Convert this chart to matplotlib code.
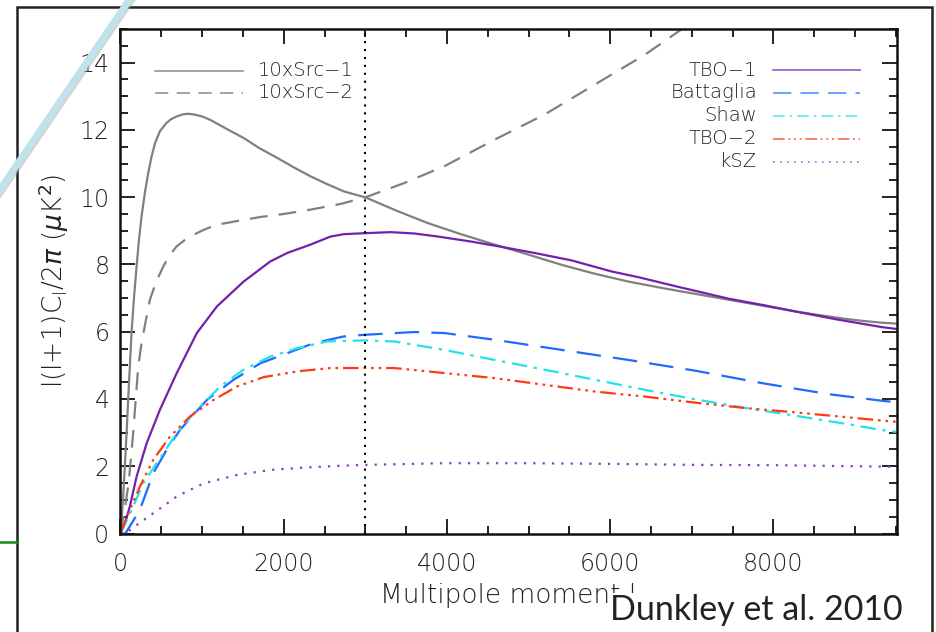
import matplotlib
matplotlib.use("Agg")
import matplotlib.pyplot as plt
from matplotlib.lines import Line2D
from matplotlib.patches import Rectangle

# ---------------- data ----------------
src1_l = [0, 30, 53, 75, 94, 115, 135, 165, 197, 225, 258, 300, 340, 380, 422, 483, 560, 620, 689, 760,
          832, 920, 1000, 1098, 1300, 1508, 1700, 1919, 2120, 2328, 2530, 2738, 3005, 3380, 3764, 4170,
          4583, 5000, 5403, 5800, 6224, 6634, 7100, 7454, 7850, 8273, 8600, 8888, 9100, 9319, 9510]
src1_y = [0, 1.0, 2.0, 3.0, 3.97, 5.0, 5.96, 7.0, 7.94, 8.7, 9.43, 10.15, 10.72, 11.2, 11.6, 11.96, 12.2,
          12.32, 12.4, 12.46, 12.48, 12.45, 12.4, 12.3, 12.03, 11.76, 11.46, 11.17, 10.89, 10.62, 10.39,
          10.17, 9.99, 9.6, 9.23, 8.9, 8.59, 8.29, 7.99, 7.73, 7.49, 7.30, 7.10, 6.95, 6.78, 6.60, 6.48,
          6.38, 6.32, 6.27, 6.24]

src2_l = [0, 50, 100, 155, 217, 260, 300, 360, 440, 524, 600, 689, 790, 893, 1030, 1181, 1450, 1713,
          2000, 2328, 2700, 3005, 3476, 3968, 4583, 5198, 5813, 6428, 6880, 7100]
src2_y = [0, 0.7, 1.5, 2.98, 4.96, 5.7, 6.2, 6.95, 7.5, 7.94, 8.27, 8.54, 8.73, 8.88, 9.04, 9.18, 9.3,
          9.41, 9.5, 9.63, 9.8, 10.0, 10.42, 10.92, 11.71, 12.46, 13.35, 14.24, 15.0, 15.4]

tbo1_l = [0, 60, 114, 197, 320, 483, 689, 935, 1181, 1508, 1836, 2042, 2328, 2574, 2738, 3005, 3312,
          3600, 3887, 4296, 4583, 5075, 5527, 6018, 6347, 6839, 7454, 7900, 8273, 8765, 9319, 9510]
tbo1_y = [0, 0.35, 0.8, 1.69, 2.68, 3.68, 4.77, 5.96, 6.75, 7.49, 8.09, 8.34, 8.59, 8.83, 8.90, 8.93,
          8.96, 8.92, 8.83, 8.68, 8.56, 8.34, 8.12, 7.79, 7.62, 7.33, 6.98, 6.78, 6.60, 6.37, 6.14, 6.08]

batt_l = [0, 60, 237, 401, 566, 729, 1058, 1385, 1713, 2042, 2369, 2738, 3005, 3599, 3968, 4583,
          5403, 6224, 7043, 7863, 8683, 9319, 9510]
batt_y = [0, 0, 0.7, 1.79, 2.49, 3.08, 3.97, 4.57, 5.06, 5.36, 5.66, 5.86, 5.91, 5.99, 5.96, 5.76,
          5.46, 5.16, 4.84, 4.47, 4.14, 3.95, 3.90]

shaw_l = [0, 155, 278, 483, 689, 935, 1221, 1508, 1836, 2165, 2533, 3005, 3353, 3968, 4583, 5198,
          5813, 6428, 7043, 7658, 8273, 8888, 9319, 9510]
shaw_y = [0, 0.8, 1.49, 2.24, 2.98, 3.68, 4.37, 4.87, 5.26, 5.51, 5.71, 5.74, 5.71, 5.46, 5.16, 4.87,
          4.57, 4.27, 3.99, 3.73, 3.50, 3.26, 3.08, 3.02]

tbo2_l = [0, 114, 237, 401, 606, 852, 1139, 1427, 1754, 2165, 2574, 3005, 3353, 3968, 4583, 5198,
          5813, 6428, 7043, 7658, 8273, 8888, 9319, 9510]
tbo2_y = [0, 0.7, 1.39, 2.19, 2.88, 3.48, 3.97, 4.37, 4.65, 4.82, 4.92, 4.92, 4.92, 4.77, 4.62, 4.42,
          4.22, 4.07, 3.89, 3.73, 3.60, 3.46, 3.36, 3.32]

ksz_l = [0, 60, 197, 401, 689, 1016, 1427, 1836, 2246, 2656, 3005, 3968, 4994, 6018, 7043, 8068, 9319, 9510]
ksz_y = [0, 0, 0.25, 0.6, 1.1, 1.49, 1.74, 1.89, 1.96, 2.01, 2.04, 2.09, 2.09, 2.07, 2.04, 2.03, 1.99, 1.98]

vline_l = 3000
x_ticks = [0, 2000, 4000, 6000, 8000]
y_ticks = [0, 2, 4, 6, 8, 10, 12, 14]

# ---------------- styles ----------------
grey = "#808080"
c_tbo1 = "#7122ac"
c_batt = "#1f6bff"
c_shaw = "#22e3ea"
c_tbo2 = "#ff3a12"
c_ksz = "#8a3cc4"

ds_src2 = (0, (8, 5))
ds_batt = (0, (11, 5.5))
ds_shaw = (0, (7, 3, 1.5, 3))
ds_tbo2 = (0, (7, 2.2, 1.2, 2.2, 1.2, 2.2, 1.2, 2.2))
ds_ksz = (0, (1.0, 3.2))

W, H = 937, 632
fig = plt.figure(figsize=(W / 100, H / 100), dpi=100)
ax_l, ax_r, ax_t, ax_b = 120.5, 896.7, 29.0, 533.5
ax = fig.add_axes([ax_l / W, 1 - ax_b / H, (ax_r - ax_l) / W, (ax_b - ax_t) / H])

lw = 1.6
ax.plot(src1_l, src1_y, color=grey, lw=lw, solid_joinstyle="round")
ax.plot(src2_l, src2_y, color=grey, lw=lw, linestyle=ds_src2)
ax.plot(tbo1_l, tbo1_y, color=c_tbo1, lw=lw, solid_joinstyle="round")
ax.plot(batt_l, batt_y, color=c_batt, lw=lw, linestyle=ds_batt)
ax.plot(shaw_l, shaw_y, color=c_shaw, lw=lw, linestyle=ds_shaw)
ax.plot(tbo2_l, tbo2_y, color=c_tbo2, lw=lw, linestyle=ds_tbo2)
ax.plot(ksz_l, ksz_y, color=c_ksz, lw=lw, linestyle=ds_ksz)
ax.axvline(vline_l, color="black", lw=1.5, linestyle=(0, (1, 2.8)))

ax.set_xlim(0, 9510)
ax.set_ylim(0, 15)
ax.set_xticks(x_ticks)
ax.set_yticks(y_ticks)
ax.set_xticks(range(0, 9510, 500), minor=True)
ax.set_yticks([i * 0.5 for i in range(31)], minor=True)

ax.tick_params(which="both", direction="in", top=True, right=True, width=1.3, colors="#111111")
ax.tick_params(which="major", length=11)
ax.tick_params(which="minor", length=6)
ax.tick_params(axis="x", which="major", pad=13, labelsize=17)
ax.tick_params(axis="y", which="major", pad=8, labelsize=17)
for lab in ax.get_xticklabels() + ax.get_yticklabels():
    lab.set_fontweight("light")
    lab.set_color("#222222")
for s in ax.spines.values():
    s.set_linewidth(1.8)
    s.set_color("#111111")

ax.set_ylabel(r"l(l+1)C$_{\mathregular{l}}$/2$\pi$ ($\mu$K$^2$)", fontsize=19,
              fontweight="light", color="#222222", labelpad=6)
ax.set_xlabel("Multipole moment l", fontsize=19, fontweight="light", color="#222222", labelpad=5)


def fx(px):
    return (px - ax_l) / (ax_r - ax_l)


def fy(py):
    return (ax_b - py) / (ax_b - ax_t)


# left legend
left_entries = [("10xSrc\u22121", "-"), ("10xSrc\u22122", ds_src2)]
for i, (lab, ls) in enumerate(left_entries):
    yy = fy(71 + 21.5 * i)
    ax.add_line(Line2D([fx(155), fx(243)], [yy, yy], transform=ax.transAxes,
                       color=grey, lw=1.2, linestyle=ls, alpha=0.85))
    ax.text(fx(258), yy, lab, transform=ax.transAxes, ha="left", va="center",
            fontsize=14, fontweight="light", color="#222222")

# right legend
right_entries = [("TBO\u22121", c_tbo1, "-"), ("Battaglia", c_batt, ds_batt),
                 ("Shaw", c_shaw, ds_shaw), ("TBO\u22122", c_tbo2, ds_tbo2),
                 ("kSZ", c_ksz, ds_ksz)]
for i, (lab, col, ls) in enumerate(right_entries):
    yy = fy(70 + 22.9 * i)
    ax.add_line(Line2D([fx(773), fx(860)], [yy, yy], transform=ax.transAxes,
                       color=col, lw=1.2, linestyle=ls, alpha=0.75))
    ax.text(fx(757), yy, lab, transform=ax.transAxes, ha="right", va="center",
            fontsize=14, fontweight="light", color="#222222")

# outer frame
fig.patches.append(Rectangle((16.7 / W, -0.05), (931.7 - 16.7) / W, 1.05 - 6.7 / H,
                             transform=fig.transFigure, fill=False, lw=1.8,
                             edgecolor="#222222", zorder=1))
# green line at left
fig.lines.append(Line2D([0, 16.7 / W], [1 - 541.5 / H, 1 - 541.5 / H], transform=fig.transFigure,
                        color="#138a13", lw=1.8))
# light blue diagonal stripe
fig.lines.append(Line2D([-5 / W, 132 / W], [1 - 199 / H, 1 + 2 / H], transform=fig.transFigure,
                        color="#a9a9a9", lw=6.0, alpha=0.5, zorder=5))
fig.lines.append(Line2D([-5 / W, 132 / W], [1 - 197 / H, 1 + 4 / H], transform=fig.transFigure,
                        color="#bfe3e8", lw=5.0, zorder=6))

# citation text
fig.text(610 / W, 1 - 620 / H, "Dunkley et al. 2010", fontsize=24.5, family="Lato",
         color="#222222", ha="left", va="baseline",
         bbox=dict(facecolor="white", edgecolor="none", pad=1))

fig.savefig("out.png", dpi=100)
